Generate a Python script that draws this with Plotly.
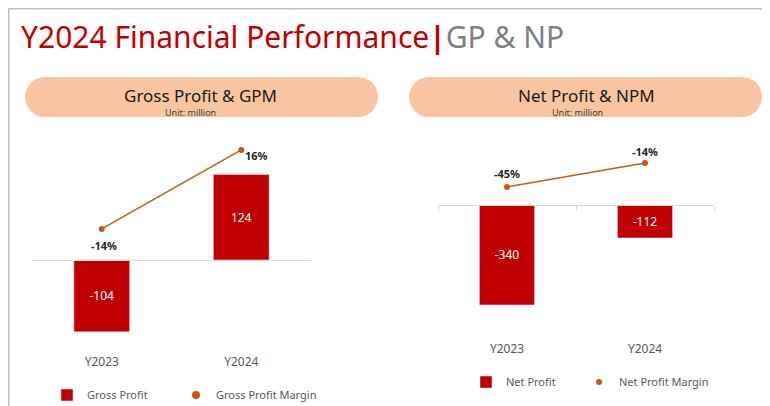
import plotly.graph_objects as go

# ---- data ----
years = ["Y2023", "Y2024"]
gross_profit = [-104, 124]
gpm = [-14, 16]
net_profit = [-340, -112]
npm = [-45, -14]

W, H = 770, 406
OFF = 8  # page body margin: screen = figure + 8
def px(x): return (x - OFF) / W
def py(y): return 1 - (y - OFF) / H

BAR = "#C00000"
LINE = "#C55A11"
PEACH = "#F9C4A0"
FONT = "Noto Sans"

fig = go.Figure()

# Left chart
fig.add_trace(go.Bar(x=years, y=gross_profit, name="Gross Profit", marker_color=BAR,
                     width=0.4, text=[str(v) for v in gross_profit], textposition="inside",
                     insidetextanchor="middle", textangle=0,
                     textfont=dict(color="white", size=12, family=FONT),
                     xaxis="x", yaxis="y", legend="legend", hoverinfo="skip"))
fig.add_trace(go.Scatter(x=years, y=gpm, mode="lines+markers",
                         line=dict(color=LINE, width=1.5), marker=dict(color=LINE, size=6),
                         xaxis="x", yaxis="y2", showlegend=False, hoverinfo="skip"))
fig.add_trace(go.Scatter(x=[None], y=[None], mode="markers", name="Gross Profit Margin",
                         marker=dict(color=LINE, size=8), xaxis="x", yaxis="y2", legend="legend2"))

# Right chart
fig.add_trace(go.Bar(x=years, y=net_profit, name="Net Profit", marker_color=BAR,
                     width=0.4, text=[str(v) for v in net_profit], textposition="inside",
                     insidetextanchor="middle", textangle=0,
                     textfont=dict(color="white", size=12, family=FONT),
                     xaxis="x2", yaxis="y3", legend="legend3", hoverinfo="skip"))
fig.add_trace(go.Scatter(x=years, y=npm, mode="lines+markers",
                         line=dict(color=LINE, width=1.5), marker=dict(color=LINE, size=6),
                         xaxis="x2", yaxis="y4", showlegend=False, hoverinfo="skip"))
fig.add_trace(go.Scatter(x=[None], y=[None], mode="markers", name="Net Profit Margin",
                         marker=dict(color=LINE, size=6), xaxis="x2", yaxis="y4", legend="legend4"))

# Axes (screen pixel positions)
L_top, L_bot, L_zero = 130, 348, 260
R_top, R_bot, R_zero = 130, 334, 205

def leg(text_x, text_y):
    return dict(orientation="h", x=px(text_x - 40), y=py(text_y), xanchor="left", yanchor="middle",
                font=dict(size=11, color="#595959"), bgcolor="rgba(0,0,0,0)", itemclick=False)

fig.update_layout(
    width=W, height=H, margin=dict(l=0, r=0, t=0, b=0),
    paper_bgcolor="white", plot_bgcolor="white",
    font=dict(family=FONT, color="#595959"),
    xaxis=dict(domain=[px(32), px(311)], anchor="free", position=py(L_zero), type="category",
               showgrid=False, showline=True, linecolor="#D9D9D9", linewidth=1, ticks="",
               tickfont=dict(size=12, color="#595959"), ticklabelstandoff=91,
               range=[-0.5, 1.5]),
    yaxis=dict(domain=[py(L_bot), py(L_top)], anchor="x", range=[-(L_bot - L_zero) / 0.69, (L_zero - L_top) / 0.69],
               visible=False, showgrid=False, zeroline=False),
    yaxis2=dict(overlaying="y", anchor="x", range=[-(L_bot - 192.1) / 2.633, (192.1 - L_top) / 2.633],
                visible=False, showgrid=False, zeroline=False),
    xaxis2=dict(domain=[px(438), px(714)], anchor="free", position=py(R_zero), type="category",
                showgrid=False, showline=True, linecolor="#D9D9D9", linewidth=1,
                ticks="outside", tickson="boundaries", ticklen=5, tickcolor="#D9D9D9",
                tickfont=dict(size=12, color="#595959"), ticklabelstandoff=133,
                range=[-0.5, 1.5]),
    yaxis3=dict(domain=[py(R_bot), py(R_top)], anchor="x2", range=[-(R_bot - R_zero) / 0.294, (R_zero - R_top) / 0.294],
                visible=False, showgrid=False, zeroline=False),
    yaxis4=dict(overlaying="y3", anchor="x2", range=[-(R_bot - 152.2) / 0.774, (152.2 - R_top) / 0.774],
                visible=False, showgrid=False, zeroline=False),
    legend=leg(87, 395),
    legend2=leg(216, 395),
    legend3=leg(506, 382),
    legend4=leg(619, 382),
)

shapes = []
# border
shapes.append(dict(type="line", xref="paper", yref="paper", x0=px(8.5), x1=px(790), y0=py(8.5), y1=py(8.5),
                   line=dict(color="#BFBFBF", width=2)))
shapes.append(dict(type="line", xref="paper", yref="paper", x0=px(8.5), x1=px(8.5), y0=py(8.5), y1=py(420),
                   line=dict(color="#BFBFBF", width=2)))
# pills
for (a, b) in [(25, 378), (409, 762)]:
    shapes.append(dict(type="rect", xref="paper", yref="paper", x0=px(a + 20), x1=px(b - 20),
                       y0=py(117), y1=py(77), fillcolor=PEACH, line=dict(width=0), layer="below"))
    for c in (a, b - 40):
        shapes.append(dict(type="circle", xref="paper", yref="paper", x0=px(c), x1=px(c + 40),
                           y0=py(117), y1=py(77), fillcolor=PEACH, line=dict(width=0), layer="below"))
fig.update_layout(shapes=shapes)

ann = []
ann.append(dict(xref="paper", yref="paper", x=px(19), y=py(37), xanchor="left", yanchor="middle",
                showarrow=False,
                text="<span style='color:#C00000'>Y2024 Financial Performance</span>"
                     "<span style='color:#C00000'><b>|</b></span>"
                     "<span style='color:#808080'>GP &amp; NP</span>",
                font=dict(size=30, family=FONT)))
for cx, title, ux in [(201, "Gross Profit & GPM", 190), (586, "Net Profit & NPM", 577)]:
    ann.append(dict(xref="paper", yref="paper", x=px(cx), y=py(96), xanchor="center", yanchor="middle",
                    showarrow=False, text=title, font=dict(size=17, color="#1A1A1A", family=FONT)))
    ann.append(dict(xref="paper", yref="paper", x=px(ux), y=py(113), xanchor="center", yanchor="middle",
                    showarrow=False, text="Unit: million", font=dict(size=9, color="#404040", family=FONT)))

# margin labels next to the line points
lab_font = dict(color="#262626", size=11, family=FONT)
gpm_shift = [(2, -17), (15, -6)]
for yr, v, (dx, dy) in zip(years, gpm, gpm_shift):
    ann.append(dict(xref="x", yref="y2", x=yr, y=v, text=f"<b>{v}%</b>", showarrow=False,
                    xshift=dx, yshift=dy, font=lab_font))
npm_shift = [(0, 14), (0, 12)]
for yr, v, (dx, dy) in zip(years, npm, npm_shift):
    ann.append(dict(xref="x2", yref="y4", x=yr, y=v, text=f"<b>{v}%</b>", showarrow=False,
                    xshift=dx, yshift=dy, font=lab_font))
fig.update_layout(annotations=ann)

fig.write_html("out.html")
